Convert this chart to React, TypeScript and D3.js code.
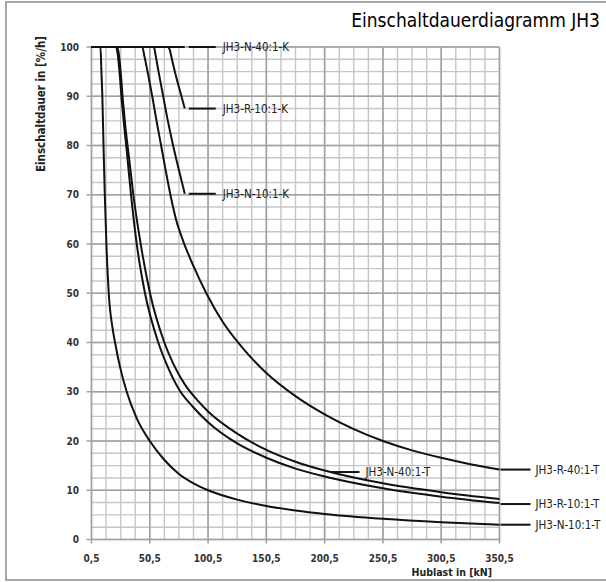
import React from "react";
import * as d3 from "d3";

// Hublast in kN vs. Einschaltdauer in %/h
const seriesN40K: [number, number][] = [
  [0.5, 100],
  [80.5, 100],
];
const seriesR10K: [number, number][] = [
  [0.5, 100], [66, 100], [67.5, 99.5], [69.5, 97.5], [72.5, 94.5], [76.5, 91], [80.5, 87.5],
];
const seriesN10K: [number, number][] = [
  [0.5, 100], [54, 100], [55.5, 98.3], [58, 95], [62, 90], [66, 85], [70.5, 80], [75.5, 75], [80.5, 70.2],
];
const seriesR40T: [number, number][] = [
  [0.5, 100], [44, 100], [46, 98], [49, 94.5], [52.6, 90], [56.3, 85], [60.2, 80], [64.1, 75],
  [68.2, 70], [73, 65], [79.3, 60.5], [88, 55.5], [99, 50], [113, 44.2], [129, 39.2],
  [150.5, 33.8], [175.5, 29.1], [200.5, 25.4], [225.5, 22.4], [250.5, 20], [275.5, 18.1],
  [300.5, 16.6], [325.5, 15.3], [350.5, 14.2],
];
const seriesN40T: [number, number][] = [
  [0.5, 100], [22.5, 100], [24, 98.5], [25.5, 95], [27.5, 89], [29.5, 84], [32.7, 77.5],
  [36.4, 70], [42.7, 60], [50.7, 50], [63, 40], [71, 35.5], [80.5, 31.5], [90.5, 28.5],
  [100.5, 26], [125.5, 21.5], [150.5, 18.2], [175.5, 15.8], [200.5, 14], [250.5, 11.4],
  [300.5, 9.6], [350.5, 8.2],
];
const seriesR10T: [number, number][] = [
  [0.5, 100], [21.5, 100], [23, 98.5], [24.5, 95], [26.5, 89], [28.5, 84], [30.7, 79],
  [34.4, 70], [39.3, 60], [46.4, 50], [57.8, 40], [66, 35], [75.5, 30.5], [88, 26.8],
  [100.5, 23.8], [125.5, 19.5], [150.5, 16.6], [175.5, 14.4], [200.5, 12.8], [250.5, 10.4],
  [300.5, 8.7], [350.5, 7.4],
];
const seriesN10T: [number, number][] = [
  [0.5, 100], [8.2, 100], [9, 95], [9.8, 90], [10.8, 80], [11.9, 70], [13.3, 60], [15.3, 50],
  [18.5, 43], [20.7, 40], [25, 35], [30.7, 30], [39.3, 24.6], [50.5, 20], [62.5, 16.3],
  [75.5, 13.3], [88, 11.4], [100.5, 10], [125.5, 8.1], [150.5, 6.8], [175.5, 5.9],
  [200.5, 5.2], [250.5, 4.2], [300.5, 3.5], [350.5, 3.0],
];

const seriesNames = [
  "JH3-N-40:1-K", "JH3-R-10:1-K", "JH3-N-10:1-K",
  "JH3-R-40:1-T", "JH3-N-40:1-T", "JH3-R-10:1-T", "JH3-N-10:1-T",
];
const seriesData = [seriesN40K, seriesR10K, seriesN10K, seriesR40T, seriesN40T, seriesR10T, seriesN10T];

// where the N-40:1-T label points at its curve
const n40TPointer: [number, number] = [205.5, 13.7];

const xTicks = [0.5, 50.5, 100.5, 150.5, 200.5, 250.5, 300.5, 350.5];
const yTicks = [0, 10, 20, 30, 40, 50, 60, 70, 80, 90, 100];

const title = "Einschaltdauerdiagramm JH3";
const xTitle = "Hublast in [kN]";
const yTitle = "Einschaltdauer in [%/h]";

const W = 606;
const H = 582;
const font = "'DejaVu Sans Condensed', 'Liberation Sans Narrow', 'DejaVu Sans', sans-serif";

export default function App() {
  const x = d3.scaleLinear().domain([0.5, 350.5]).range([91.5, 499.5]);
  const y = d3.scaleLinear().domain([0, 100]).range([539.5, 47]);

  const line = d3
    .line<[number, number]>()
    .x((d) => x(d[0]))
    .y((d) => y(d[1]))
    .curve(d3.curveMonotoneX);

  const minorX = d3.range(0.5, 350.6, 12.5);
  const minorY = d3.range(0, 100.1, 2.5);

  const labels = seriesNames.map((name, i) => {
    const pts = seriesData[i];
    let [lx, ly] = pts[pts.length - 1];
    let x0 = x(lx) + 4;
    let x1 = x(lx) + 31;
    let tx = x(lx) + 38;
    if (name.endsWith("-T")) {
      x0 = x(lx) + 1;
      x1 = x(lx) + 31;
      tx = x(lx) + 36;
    }
    if (name === "JH3-N-40:1-T") {
      [lx, ly] = n40TPointer;
      x0 = x(lx);
      x1 = x(lx) + 29;
      tx = x(lx) + 35;
    }
    if (name === "JH3-R-10:1-T") ly = 7.2;
    return { name, x0, x1, tx, yy: y(ly) };
  });

  return (
    <svg
      width={W}
      height={H}
      style={{ position: "absolute", left: 0, top: 0, background: "#fff" }}
      fontFamily={font}
    >
      {/* frame: right side runs past the picture edge */}
      <rect x={6} y={2} width={603} height={578} fill="#fff" stroke="#a8a8a8" strokeWidth={2} />

      <text x={600} y={27} textAnchor="end" fontSize={19} fill="#000">
        {title}
      </text>

      {/* minor grid */}
      <g stroke="#c6c6c6" strokeWidth={1.4}>
        {minorX.map((v) => (
          <line key={"mx" + v} x1={x(v)} x2={x(v)} y1={y(0)} y2={y(100)} />
        ))}
        {minorY.map((v) => (
          <line key={"my" + v} x1={x(0.5)} x2={x(350.5)} y1={y(v)} y2={y(v)} />
        ))}
      </g>

      {/* major grid + ticks */}
      <g stroke="#a2a2a2" strokeWidth={1.6}>
        {xTicks.map((v) => (
          <line key={"Mx" + v} x1={x(v)} x2={x(v)} y1={y(0) + 4} y2={y(100)} />
        ))}
        {yTicks.map((v) => (
          <line key={"My" + v} x1={x(0.5) - 5} x2={x(350.5)} y1={y(v)} y2={y(v)} />
        ))}
      </g>

      {/* curves */}
      <g fill="none" stroke="#111" strokeWidth={2} strokeLinejoin="round">
        {seriesData.map((pts, i) => (
          <path key={seriesNames[i]} d={line(pts) || ""} />
        ))}
      </g>

      {/* labels with leader lines */}
      {labels.map((l) => (
        <g key={l.name}>
          <line x1={l.x0} x2={l.x1} y1={l.yy} y2={l.yy} stroke="#111" strokeWidth={2} />
          <text x={l.tx} y={l.yy} dy="0.35em" fontSize={11.5} fill="#222">
            {l.name}
          </text>
        </g>
      ))}

      {/* tick labels */}
      <g fontSize={10} fontWeight="bold" fill="#333">
        {yTicks.map((v) => (
          <text key={"yl" + v} x={79} y={y(v)} dy="0.35em" textAnchor="end">
            {v}
          </text>
        ))}
        {xTicks.map((v) => (
          <text key={"xl" + v} x={x(v)} y={562} textAnchor="middle">
            {d3.format(".1f")(v).replace(".", ",")}
          </text>
        ))}
      </g>

      <text x={492} y={576} textAnchor="end" fontSize={10.5} fontWeight="bold" fill="#222">
        {xTitle}
      </text>
      <text
        transform="translate(45,104) rotate(-90)"
        textAnchor="middle"
        fontSize={11.5}
        fontWeight="bold"
        fill="#222"
      >
        {yTitle}
      </text>
    </svg>
  );
}
